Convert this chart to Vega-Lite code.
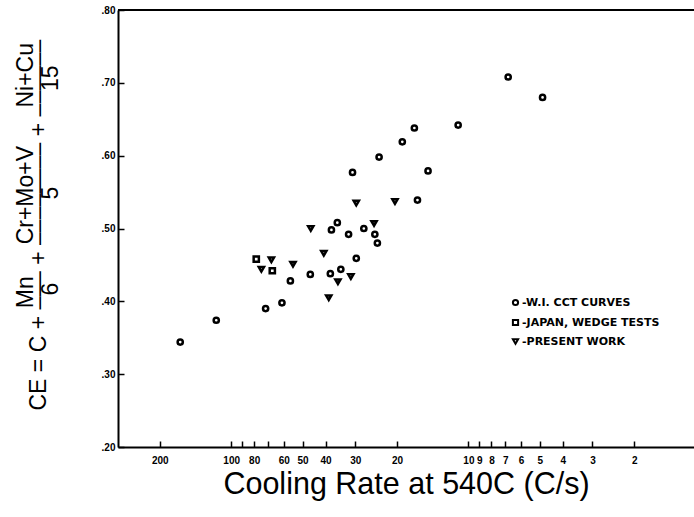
{
  "$schema": "https://vega.github.io/schema/vega-lite/v6.json",
  "width": 576,
  "height": 437,
  "autosize": {"type": "none"},
  "padding": {"left": 118, "top": 10, "right": 0, "bottom": 70},
  "background": "white",
  "config": {
    "view": {"stroke": null},
    "axis": {"grid": false, "domain": true, "ticks": true, "domainColor": "#000000", "domainOpacity": 1, "domainWidth": 2, "tickColor": "#000000", "tickOpacity": 1, "tickWidth": 1.5, "labelColor": "black", "titleColor": "black"}
  },
  "data": {"values": [
    {"series": "W.I. CCT CURVES", "rate": 164.0, "ce": 0.344},
    {"series": "W.I. CCT CURVES", "rate": 115.6, "ce": 0.374},
    {"series": "W.I. CCT CURVES", "rate": 71.6, "ce": 0.390},
    {"series": "W.I. CCT CURVES", "rate": 61.1, "ce": 0.398},
    {"series": "W.I. CCT CURVES", "rate": 56.3, "ce": 0.428},
    {"series": "W.I. CCT CURVES", "rate": 46.4, "ce": 0.437},
    {"series": "W.I. CCT CURVES", "rate": 38.2, "ce": 0.438},
    {"series": "W.I. CCT CURVES", "rate": 34.5, "ce": 0.444},
    {"series": "W.I. CCT CURVES", "rate": 29.7, "ce": 0.459},
    {"series": "W.I. CCT CURVES", "rate": 35.7, "ce": 0.508},
    {"series": "W.I. CCT CURVES", "rate": 37.8, "ce": 0.498},
    {"series": "W.I. CCT CURVES", "rate": 32.0, "ce": 0.492},
    {"series": "W.I. CCT CURVES", "rate": 27.6, "ce": 0.500},
    {"series": "W.I. CCT CURVES", "rate": 24.8, "ce": 0.492},
    {"series": "W.I. CCT CURVES", "rate": 24.2, "ce": 0.480},
    {"series": "W.I. CCT CURVES", "rate": 30.8, "ce": 0.577},
    {"series": "W.I. CCT CURVES", "rate": 23.8, "ce": 0.598},
    {"series": "W.I. CCT CURVES", "rate": 19.0, "ce": 0.619},
    {"series": "W.I. CCT CURVES", "rate": 16.9, "ce": 0.638},
    {"series": "W.I. CCT CURVES", "rate": 14.8, "ce": 0.579},
    {"series": "W.I. CCT CURVES", "rate": 16.4, "ce": 0.539},
    {"series": "W.I. CCT CURVES", "rate": 11.05, "ce": 0.642},
    {"series": "W.I. CCT CURVES", "rate": 6.80, "ce": 0.708},
    {"series": "W.I. CCT CURVES", "rate": 4.87, "ce": 0.680},
    {"series": "JAPAN, WEDGE TESTS", "rate": 78.4, "ce": 0.458},
    {"series": "JAPAN, WEDGE TESTS", "rate": 67.1, "ce": 0.442},
    {"series": "PRESENT WORK", "rate": 67.7, "ce": 0.457},
    {"series": "PRESENT WORK", "rate": 74.6, "ce": 0.444},
    {"series": "PRESENT WORK", "rate": 54.9, "ce": 0.451},
    {"series": "PRESENT WORK", "rate": 46.2, "ce": 0.500},
    {"series": "PRESENT WORK", "rate": 40.7, "ce": 0.466},
    {"series": "PRESENT WORK", "rate": 38.8, "ce": 0.405},
    {"series": "PRESENT WORK", "rate": 35.5, "ce": 0.427},
    {"series": "PRESENT WORK", "rate": 31.3, "ce": 0.434},
    {"series": "PRESENT WORK", "rate": 29.7, "ce": 0.535},
    {"series": "PRESENT WORK", "rate": 25.0, "ce": 0.507},
    {"series": "PRESENT WORK", "rate": 20.4, "ce": 0.537}
  ]},
  "layer": [
    {
      "mark": {"type": "point", "filled": false, "color": "black", "strokeWidth": 2.5, "size": 27, "opacity": 1},
      "encoding": {
        "x": {
          "field": "rate", "type": "quantitative",
          "scale": {"type": "log", "domain": [1.12, 300], "reverse": true, "nice": false},
          "axis": {
            "values": [200, 100, 90, 80, 70, 60, 50, 40, 30, 20, 10, 9, 8, 7, 6, 5, 4, 3, 2],
            "labelExpr": "(datum.value == 90 || datum.value == 70) ? '' : format(datum.value, 'd')",
            "tickSize": -6, "labelPadding": 14, "labelOverlap": false, "labelFlush": false,
            "labelFont": "Liberation Sans", "labelFontWeight": "bold", "labelFontSize": 10,
            "title": "Cooling Rate at 540C (C/s)", "titleFont": "Liberation Sans", "titleFontSize": 30.5, "titleFontWeight": "normal", "titlePadding": 4
          }
        },
        "y": {
          "field": "ce", "type": "quantitative",
          "scale": {"domain": [0.2, 0.8], "nice": false, "zero": false},
          "axis": {
            "values": [0.2, 0.25, 0.3, 0.35, 0.4, 0.45, 0.5, 0.55, 0.6, 0.65, 0.7, 0.75, 0.8],
            "labelExpr": "(round(datum.value * 100) % 10 == 0) ? replace(format(datum.value, '.2f'), '0.', '.') : ''",
            "tickSize": -6, "labelPadding": 9, "labelOverlap": false, "labelFlush": false,
            "labelFont": "Liberation Sans", "labelFontWeight": "bold", "labelFontSize": 10,
            "title": [
              "\u200b\u00a0\u00a0\u00a0\u00a0\u00a0\u00a0\u00a0\u00a0\u00a0\u00a0\u00a0\u00a0\u00a0\u00a0\u00a0\u00a0Mn\u00a0\u00a0\u00a0\u00a0\u00a0Cr+Mo+V\u00a0\u00a0\u00a0\u00a0\u00a0\u00a0Ni+Cu",
              "CE\u00a0=\u00a0C\u00a0+\u00a0\u2013\u2013\u2013\u00a0+\u00a0\u2013\u2013\u2013\u2013\u2013\u2013\u2013\u2013\u00a0+\u00a0\u2013\u2013\u2013\u2013\u2013\u2013",
              "\u200b\u00a0\u00a0\u00a0\u00a0\u00a0\u00a0\u00a0\u00a0\u00a0\u00a0\u00a0\u00a0\u00a0\u00a0\u00a0\u00a0\u00a0\u00a06\u00a0\u00a0\u00a0\u00a0\u00a0\u00a0\u00a0\u00a0\u00a0\u00a0\u00a0\u00a0\u00a05\u00a0\u00a0\u00a0\u00a0\u00a0\u00a0\u00a0\u00a0\u00a0\u00a0\u00a0\u00a0\u00a0\u00a0\u00a015"
            ],
            "titleFont": "Liberation Sans", "titleFontSize": 23, "titleFontWeight": "normal",
            "titleLineHeight": 12.5, "titleAlign": "left", "titleAngle": 270, "titleBaseline": "alphabetic",
            "titleX": -85.5, "titleY": 400
          }
        },
        "shape": {
          "field": "series", "type": "nominal",
          "scale": {"domain": ["W.I. CCT CURVES", "JAPAN, WEDGE TESTS", "PRESENT WORK"], "range": ["circle", "square", "triangle-down"]},
          "legend": {
            "title": null, "orient": "none", "legendX": 392, "legendY": 287,
            "labelFont": "DejaVu Sans", "labelFontWeight": "bold", "labelFontSize": 11, "labelColor": "black",
            "symbolStrokeColor": "black", "symbolStrokeWidth": 2, "symbolSize": 27, "rowPadding": 5, "labelOffset": 1,
            "labelExpr": "'-' + datum.label"
          }
        }
      }
    },
    {
      "mark": {"type": "rule", "stroke": "#000000", "strokeWidth": 2},
      "encoding": {"y": {"datum": 0.8, "type": "quantitative"}}
    }
  ]
}
